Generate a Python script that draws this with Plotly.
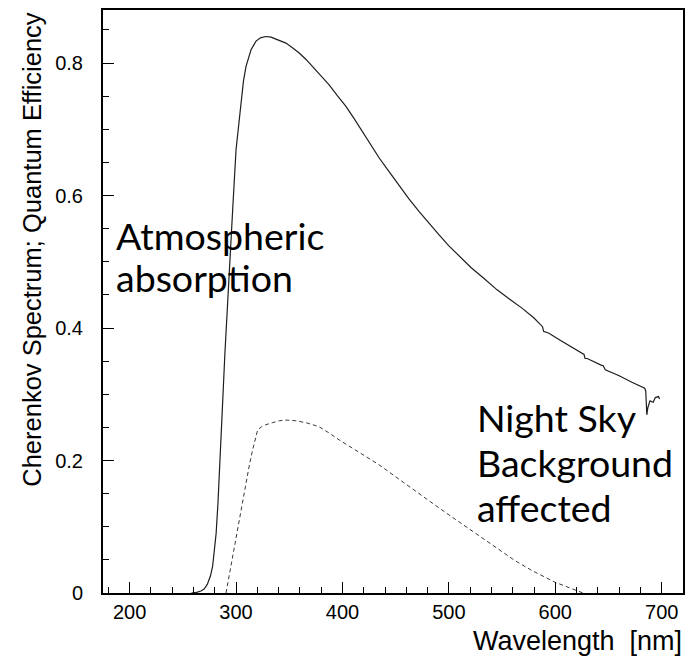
import plotly.graph_objects as go

# Cherenkov spectrum at ground (after atmospheric absorption), arbitrary units
cherenkov_nm = [258, 263, 267, 270, 273, 276, 278, 280, 281.3, 283, 284.4, 286, 287.5,
                289.5, 291.6, 294, 296.9, 300, 302.5, 304.7, 307, 309.4, 312, 314.1,
                318.8, 323, 328, 333, 337.5, 342, 346.9, 353, 359.4, 366, 371.9, 380,
                387.5, 395, 403.1, 411, 418.7, 426.5, 434.4, 443.8, 453.1, 462.5, 471.9,
                481.3, 490.6, 500, 509.4, 521, 532.8, 545, 557.8, 568.7, 580, 586, 588,
                589, 591, 594, 605, 615, 625, 627, 628, 630, 643, 645, 647, 660, 672,
                684, 685, 686, 687, 689, 692, 694, 697, 698]
cherenkov_val = [0.0, 0.001, 0.003, 0.006, 0.013, 0.026, 0.040, 0.065, 0.09, 0.135,
                 0.19, 0.24, 0.29, 0.36, 0.4275, 0.50, 0.58, 0.669, 0.71, 0.745, 0.773,
                 0.795, 0.810, 0.820, 0.833, 0.838, 0.840, 0.839, 0.836, 0.833, 0.830,
                 0.823, 0.815, 0.805, 0.795, 0.781, 0.767, 0.751, 0.735, 0.716, 0.697,
                 0.677, 0.657, 0.636, 0.615, 0.595, 0.576, 0.558, 0.541, 0.524, 0.509,
                 0.491, 0.475, 0.458, 0.4426, 0.430, 0.415, 0.405, 0.402, 0.395, 0.394,
                 0.392, 0.381, 0.372, 0.362, 0.360, 0.354, 0.354, 0.344, 0.343, 0.337,
                 0.328, 0.318, 0.309, 0.305, 0.269, 0.280, 0.290, 0.288, 0.295, 0.2965,
                 0.293]

# Photodetector quantum efficiency
qe_nm = [290.6, 295, 300, 305, 309.4, 312.5, 315.6, 318, 320.3, 324, 328, 334, 340.6,
         348, 356.3, 366, 378, 387, 397, 415, 434, 453, 470, 485, 500, 516, 531, 547,
         562, 578, 590, 600, 610, 619, 626]
qe_val = [0.0, 0.04, 0.08, 0.125, 0.166, 0.193, 0.216, 0.234, 0.246, 0.251, 0.254,
          0.257, 0.260, 0.261, 0.260, 0.257, 0.251, 0.242, 0.231, 0.213, 0.194, 0.172,
          0.153, 0.135, 0.118, 0.100, 0.083, 0.065, 0.049, 0.034, 0.024, 0.016, 0.010,
          0.005, 0.0]

x_ticks = [200, 300, 400, 500, 600, 700]
y_ticks = [0, 0.2, 0.4, 0.6, 0.8]
y_tick_text = ["0", "0.2", "0.4", "0.6", "0.8"]

axis_font = "Liberation Sans, Arial, Helvetica, sans-serif"
note_font = "Lato, sans-serif"

# plot-area geometry in pixels, used to place the text notes
L, T, W, H = 103, 10, 582, 583


def px_to_paper(px, py):
    return (px - L) / W, (T + H - py) / H


fig = go.Figure()
fig.add_trace(go.Scatter(x=cherenkov_nm, y=cherenkov_val, mode="lines",
                         line=dict(color="#1e1e1e", width=1.2), showlegend=False))
fig.add_trace(go.Scatter(x=qe_nm, y=qe_val, mode="lines",
                         line=dict(color="#3a3a3a", width=1, dash="4px,3px"),
                         showlegend=False))

fig.update_layout(
    width=687, height=661,
    margin=dict(l=L, r=687 - L - W, t=T, b=661 - T - H),
    paper_bgcolor="white", plot_bgcolor="white",
    font=dict(family=axis_font, color="black", size=20),
    xaxis=dict(range=[175, 720], tickvals=x_ticks, ticks="inside", ticklen=11,
               tickwidth=1, tickcolor="black", showline=True, linecolor="black",
               linewidth=2, mirror=True, showgrid=False, zeroline=False,
               tickfont=dict(size=20, family=axis_font),
               minor=dict(dtick=20, tick0=0, ticks="inside", ticklen=6,
                          tickcolor="black", tickwidth=1, showgrid=False)),
    yaxis=dict(range=[0, 0.88], tickvals=y_ticks, ticktext=y_tick_text, ticks="inside",
               ticklen=11, tickwidth=1, tickcolor="black", showline=True,
               linecolor="black", linewidth=2, mirror=True, showgrid=False,
               zeroline=False, ticklabelstandoff=14,
               tickfont=dict(size=20, family=axis_font),
               minor=dict(dtick=0.05, tick0=0, ticks="inside", ticklen=6,
                          tickcolor="black", tickwidth=1, showgrid=False)),
)

# axis titles
fx, fy = px_to_paper(686, 641)
fig.add_annotation(text="Wavelength  [nm]", xref="paper", yref="paper",
                   x=fx, y=fy, xanchor="right", yanchor="middle",
                   showarrow=False, font=dict(size=27, family=axis_font))
fx, fy = px_to_paper(31, 10)
fig.add_annotation(text="Cherenkov Spectrum; Quantum Efficiency", xref="paper",
                   yref="paper", x=fx, y=fy, xanchor="center", yanchor="top",
                   textangle=-90, showarrow=False,
                   font=dict(size=25.5, family=axis_font))

# text notes, one annotation per line (left edge px, top of text box px)
notes = [("Atmospheric", 114, 211), ("absorption", 114, 253),
         ("Night Sky", 476, 393), ("Background", 476, 438), ("affected", 476, 483)]
for text, px, py in notes:
    nx, ny = px_to_paper(px, py)
    fig.add_annotation(text=text, xref="paper", yref="paper", x=nx, y=ny,
                       xanchor="left", yanchor="top", showarrow=False,
                       font=dict(size=37.5, family=note_font))

fig.write_html("out.html")
